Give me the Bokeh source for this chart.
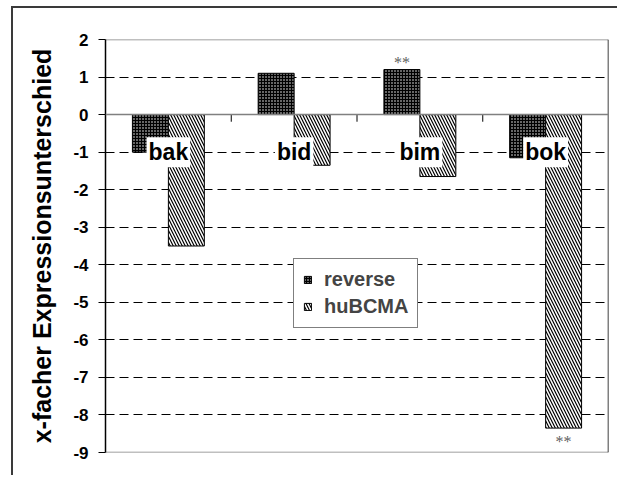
from bokeh.plotting import figure
from bokeh.models import (Range1d, FixedTicker, Legend, LegendItem,
                          ColumnDataSource, Span, CDSView, IndexFilter)
from bokeh.transform import dodge
from bokeh.core.properties import value
from bokeh.embed import file_html
from bokeh.resources import INLINE

# ---- data ----
categories = ["bak", "bid", "bim", "bok"]
reverse = [-1.0, 1.1, 1.2, -1.15]
hubcma = [-3.5, -1.35, -1.65, -8.35]
sig_reverse = ["", "", "**", ""]
sig_hubcma = ["", "", "", "**"]
y_ticks = [-9, -8, -7, -6, -5, -4, -3, -2, -1, 0, 1, 2]
series_names = ["reverse", "huBCMA"]
y_label = "x-facher Expressionsunterschied"

LABEL_Y = -1.0
BAR_W = 0.286
TICK_LEN = 0.19
FONT = "Liberation Sans"

pos = [i + 0.5 for i in range(len(categories))]
source = ColumnDataSource(dict(cat=categories, pos=pos, reverse=reverse,
                               hubcma=hubcma, sig_r=sig_reverse, sig_h=sig_hubcma,
                               label_y=[LABEL_Y] * len(categories)))

p = figure(width=617, height=475, x_range=Range1d(0, len(categories)),
           y_range=Range1d(min(y_ticks), max(y_ticks)),
           output_backend="svg", toolbar_location=None, x_axis_type=None,
           min_border_left=105, min_border_right=9, min_border_top=39,
           min_border_bottom=23)
p.outline_line_color = None
p.background_fill_color = "white"
p.border_fill_color = None
# outer frame lines of the whole chart (top and left edges)
p.styles = {
    "background": "linear-gradient(#3a3a3a, #3a3a3a) 11px 6px / 100% 2px no-repeat, "
                  "linear-gradient(#3a3a3a, #3a3a3a) 11px 6px / 2px 100% no-repeat, white",
}

# y axis
yax = p.yaxis[0]
yax.ticker = FixedTicker(ticks=y_ticks)
yax.major_label_overrides = {t: str(t) for t in y_ticks}
yax.major_label_text_font = FONT
yax.major_label_text_font_style = "bold"
yax.major_label_text_font_size = "17px"
yax.major_label_text_color = "black"
yax.major_tick_out = 7
yax.major_tick_in = 0
yax.minor_tick_line_color = None
yax.major_label_standoff = 10
yax.axis_line_color = "black"
yax.axis_line_width = 1.5
yax.major_tick_line_color = "black"
yax.axis_label = y_label
yax.axis_label_text_font = FONT
yax.axis_label_text_font_style = "bold"
yax.axis_label_text_font_size = "25px"
yax.axis_label_text_color = "black"
yax.axis_label_standoff = 14

# grid
p.xgrid.visible = False
p.ygrid.ticker = FixedTicker(ticks=[t for t in y_ticks if t != 0])
p.ygrid.grid_line_color = "black"
p.ygrid.grid_line_dash = "9 5"
p.ygrid.grid_line_width = 1

# frame edges
for loc in (min(y_ticks), max(y_ticks)):
    p.add_layout(Span(location=loc, dimension="width", line_color="#808080",
                      line_width=1.5, level="image"))
p.add_layout(Span(location=len(categories), dimension="height", line_color="black",
                  line_width=1.5))

# bars
r1 = p.vbar(x=dodge("pos", -BAR_W / 2), top="reverse", bottom=0, width=BAR_W,
            source=source, fill_color="black", line_color="black", line_width=1,
            hatch_pattern="dot", hatch_color="white", hatch_scale=3, hatch_weight=1)
r2 = p.vbar(x=dodge("pos", BAR_W / 2), top="hubcma", bottom=0, width=BAR_W,
            source=source, fill_color="white", line_color="black", line_width=1,
            hatch_pattern="left_diagonal_line", hatch_color="black",
            hatch_scale=6, hatch_weight=1.2)

# zero line with category separator ticks
p.add_layout(Span(location=0, dimension="width", line_color="#808080", line_width=1.5))
bounds = list(range(1, len(categories)))
p.segment(x0=bounds, y0=[0] * len(bounds), x1=bounds, y1=[-TICK_LEN] * len(bounds),
          line_color="black", line_width=1)

# category labels
p.text(x="pos", y="label_y", text="cat", source=source,
       text_font=value(FONT), text_font_style="bold", text_font_size="23px",
       text_align="center", text_baseline="middle", text_color="black",
       background_fill_color="white", padding=2)

# significance marks (only where present)
idx_r = [i for i, s in enumerate(sig_reverse) if s]
idx_h = [i for i, s in enumerate(sig_hubcma) if s]
p.text(x=dodge("pos", -BAR_W / 2), y="reverse", text="sig_r", source=source,
       view=CDSView(filter=IndexFilter(idx_r)),
       text_font=value("Liberation Serif"), text_font_size="16px",
       text_color="#606060", text_align="center", text_baseline="bottom", y_offset=1)
p.text(x=dodge("pos", BAR_W / 2), y="hubcma", text="sig_h", source=source,
       view=CDSView(filter=IndexFilter(idx_h)),
       text_font=value("Liberation Serif"), text_font_size="16px",
       text_color="#606060", text_align="center", text_baseline="top", y_offset=5)

legend = Legend(items=[LegendItem(label=series_names[0], renderers=[r1]),
                       LegendItem(label=series_names[1], renderers=[r2])],
                location=(188, 124), border_line_color="black", border_line_width=1,
                label_text_font=FONT, label_text_font_style="bold",
                label_text_font_size="20px", glyph_width=9, glyph_height=9,
                padding=9, spacing=4, label_standoff=12, margin=0,
                background_fill_alpha=1, label_height=20)
p.add_layout(legend, "center")

open("out.html", "w").write(file_html(p, INLINE))
